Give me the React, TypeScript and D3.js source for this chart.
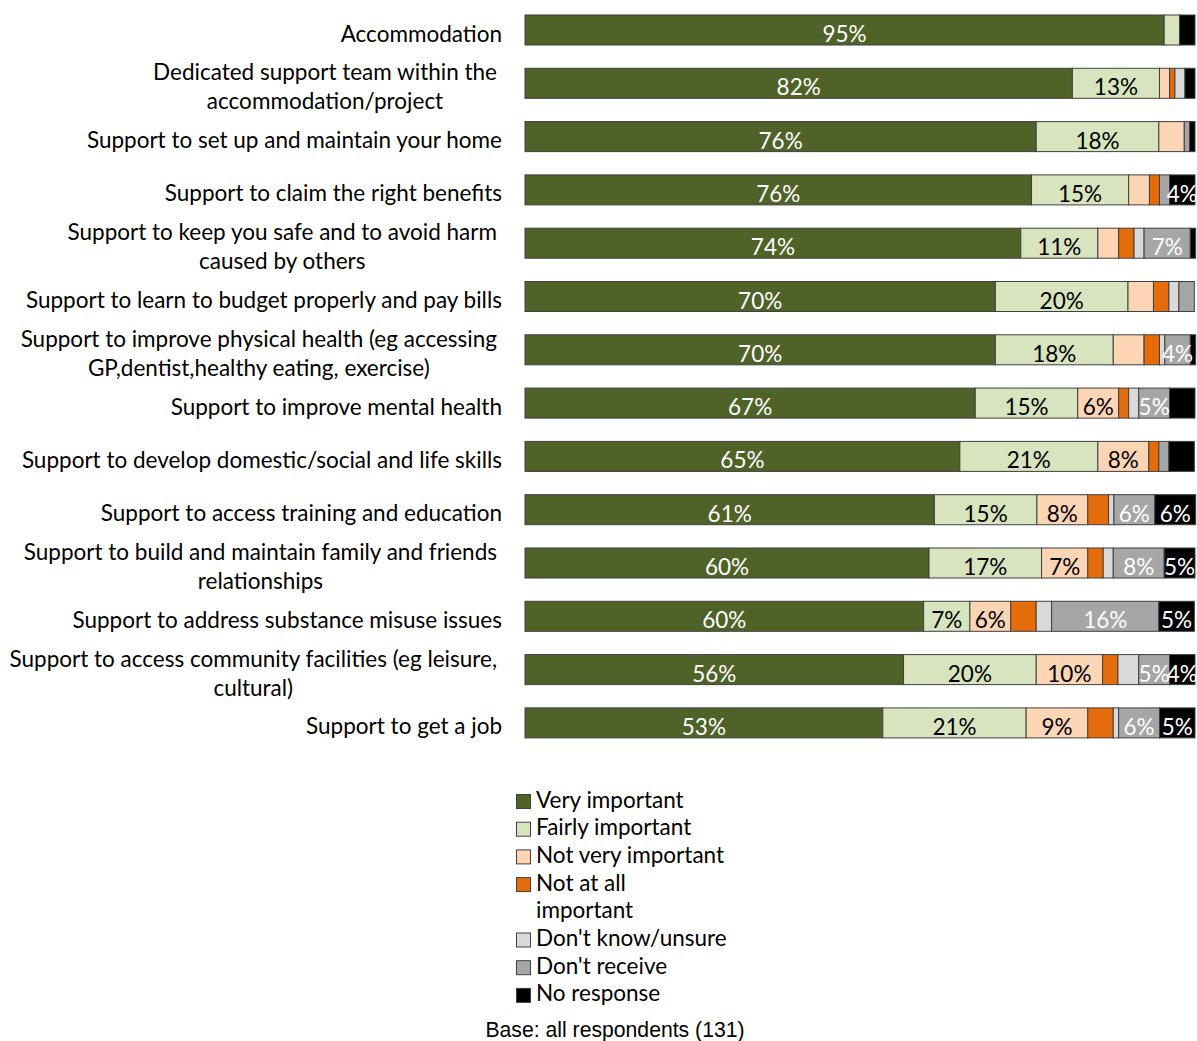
import React, { useEffect, useRef } from "react";
import * as d3 from "d3";

const categories = [
  "Accommodation",
  "Dedicated support team within the accommodation/project",
  "Support to set up and maintain your home",
  "Support to claim the right benefits",
  "Support to keep you safe and to avoid harm caused by others",
  "Support to learn to budget properly and pay bills",
  "Support to improve physical health (eg accessing GP,dentist,healthy eating, exercise)",
  "Support to improve mental health",
  "Support to develop domestic/social and life skills",
  "Support to access training and education",
  "Support to build and maintain family and friends relationships",
  "Support to address substance misuse issues",
  "Support to access community facilities (eg leisure, cultural)",
  "Support to get a job",
];

const categoryLines = [
  ["Accommodation"],
  ["Dedicated support team within the", "accommodation/project"],
  ["Support to set up and maintain your home"],
  ["Support to claim the right benefits"],
  ["Support to keep you safe and to avoid harm", "caused by others"],
  ["Support to learn to budget properly and pay bills"],
  ["Support to improve physical health (eg accessing", "GP,dentist,healthy eating, exercise)"],
  ["Support to improve mental health"],
  ["Support to develop domestic/social and life skills"],
  ["Support to access training and education"],
  ["Support to build and maintain family and friends", "relationships"],
  ["Support to address substance misuse issues"],
  ["Support to access community facilities (eg leisure,", "cultural)"],
  ["Support to get a job"],
];

const seriesNames = [
  "Very important",
  "Fairly important",
  "Not very important",
  "Not at all important",
  "Don't know/unsure",
  "Don't receive",
  "No response",
];

const veryImportant = [95.4, 81.7, 76.3, 75.6, 74.0, 70.2, 70.2, 67.2, 64.9, 61.1, 60.3, 59.5, 56.5, 53.4];
const fairlyImportant = [2.3, 13.0, 18.3, 14.5, 11.5, 19.8, 17.6, 15.3, 20.6, 15.3, 16.8, 6.9, 19.8, 21.4];
const notVeryImportant = [0, 1.5, 3.8, 3.1, 3.1, 3.8, 4.6, 6.1, 7.6, 7.6, 6.9, 6.1, 9.9, 9.2];
const notAtAllImportant = [0, 0.8, 0, 1.5, 2.3, 2.3, 2.3, 1.5, 1.5, 3.1, 2.3, 3.8, 2.3, 3.8];
const dontKnow = [0, 1.5, 0, 0, 1.5, 1.5, 0.8, 1.5, 0, 0.8, 1.5, 2.3, 3.1, 0.8];
const dontReceive = [0, 0, 0.8, 1.5, 6.9, 2.3, 3.8, 4.6, 1.5, 6.1, 7.6, 16.0, 4.6, 6.1];
const noResponse = [2.3, 1.5, 0.8, 3.8, 0.8, 0, 0.8, 3.8, 3.8, 6.1, 4.6, 5.3, 3.8, 5.3];

const veryLabels = ["95%", "82%", "76%", "76%", "74%", "70%", "70%", "67%", "65%", "61%", "60%", "60%", "56%", "53%"];
const fairlyLabels = ["", "13%", "18%", "15%", "11%", "20%", "18%", "15%", "21%", "15%", "17%", "7%", "20%", "21%"];
const notVeryLabels = ["", "", "", "", "", "", "", "6%", "8%", "8%", "7%", "6%", "10%", "9%"];
const notAtAllLabels = ["", "", "", "", "", "", "", "", "", "", "", "", "", ""];
const dontKnowLabels = ["", "", "", "", "", "", "", "", "", "", "", "", "", ""];
const dontReceiveLabels = ["", "", "", "", "7%", "", "4%", "5%", "", "6%", "8%", "16%", "5%", "6%"];
const noResponseLabels = ["", "", "", "4%", "", "", "", "", "", "6%", "5%", "5%", "4%", "5%"];

const legendLines = [
  ["Very important"],
  ["Fairly important"],
  ["Not very important"],
  ["Not at all", "important"],
  ["Don't know/unsure"],
  ["Don't receive"],
  ["No response"],
];

const colors = ["#4F6228", "#D7E4BD", "#FCD5B5", "#E46C0A", "#D9D9D9", "#A6A6A6", "#000000"];
const labelColors = ["#FFFFFF", "#000000", "#000000", "#000000", "#000000", "#FFFFFF", "#FFFFFF"];

const baseNote = "Base: all respondents (131)";

export default function App() {
  const ref = useRef<SVGSVGElement>(null);

  useEffect(() => {
    document.body.style.margin = "0";
    const svg = d3.select(ref.current);
    svg.selectAll("*").remove();

    const font = "Lato, 'Open Sans', sans-serif";
    const fs = 22.5;

    const values = [
      veryImportant,
      fairlyImportant,
      notVeryImportant,
      notAtAllImportant,
      dontKnow,
      dontReceive,
      noResponse,
    ];
    const labels = [
      veryLabels,
      fairlyLabels,
      notVeryLabels,
      notAtAllLabels,
      dontKnowLabels,
      dontReceiveLabels,
      noResponseLabels,
    ];

    const rows = categories.map((c, i) => {
      const o: any = { category: c };
      seriesNames.forEach((s, k) => (o[s] = values[k][i]));
      return o;
    });

    const stacked = d3.stack<any>().keys(seriesNames)(rows);

    const x = d3.scaleLinear().domain([0, 100]).range([525, 1195]);
    const y = d3
      .scaleBand<string>()
      .domain(categories)
      .range([3.35, 3.35 + 14 * 53.3])
      .paddingInner(0.437)
      .paddingOuter(0.2185);
    const bh = y.bandwidth();

    const plot = svg.append("g");

    stacked.forEach((layer, k) => {
      const g = plot.append("g");
      g.selectAll("rect")
        .data(layer.filter((d) => d[1] - d[0] > 0))
        .join("rect")
        .attr("x", (d) => x(d[0]))
        .attr("y", (d) => y(d.data.category)!)
        .attr("width", (d) => x(d[1]) - x(d[0]))
        .attr("height", bh)
        .attr("fill", colors[k])
        .attr("stroke", "#404040")
        .attr("stroke-width", 1);
    });

    stacked.forEach((layer, k) => {
      const g = plot.append("g");
      layer.forEach((d, i) => {
        const t = labels[k][i];
        if (!t) return;
        g.append("text")
          .attr("x", (x(d[0]) + x(d[1])) / 2)
          .attr("y", y(d.data.category)! + bh / 2 + 12)
          .attr("text-anchor", "middle")
          .attr("font-family", font)
          .attr("font-size", fs)
          .attr("fill", labelColors[k])
          .text(t);
      });
    });

    // Category labels
    const catG = svg.append("g");
    categories.forEach((c, i) => {
      const lines = categoryLines[i];
      const cy = y(c)! + bh / 2;
      if (lines.length === 1) {
        catG
          .append("text")
          .attr("x", 502)
          .attr("y", cy + 11.5)
          .attr("text-anchor", "end")
          .attr("font-family", font)
          .attr("font-size", fs)
          .attr("fill", "#000")
          .text(lines[0]);
      } else {
        const texts = lines.map((l, j) =>
          catG
            .append("text")
            .attr("y", cy + 11.5 - 14.5 + j * 29)
            .attr("text-anchor", "middle")
            .attr("font-family", font)
            .attr("font-size", fs)
            .attr("fill", "#000")
            .text(l)
        );
        const maxW = d3.max(texts, (t) => (t.node() as SVGTextElement).getComputedTextLength()) || 0;
        const center = 502 - 5 - maxW / 2;
        texts.forEach((t) => t.attr("x", center));
      }
    });

    // Legend
    const leg = svg.append("g");
    let line = 0;
    const lx = 516;
    const base0 = 807.5;
    const step = 27.7;
    seriesNames.forEach((s, k) => {
      const bl = base0 + line * step;
      leg
        .append("rect")
        .attr("x", lx + 0.5)
        .attr("y", bl - 13)
        .attr("width", 14)
        .attr("height", 14)
        .attr("fill", colors[k])
        .attr("stroke", "#404040")
        .attr("stroke-width", 1);
      legendLines[k].forEach((l, j) => {
        leg
          .append("text")
          .attr("x", 536)
          .attr("y", bl + j * step)
          .attr("font-family", font)
          .attr("font-size", fs)
          .attr("fill", "#000")
          .text(l);
      });
      line += legendLines[k].length;
    });

    svg
      .append("text")
      .attr("x", 615)
      .attr("y", 1036.5)
      .attr("text-anchor", "middle")
      .attr("font-family", "'Liberation Sans', Arial, sans-serif")
      .attr("font-size", 21.2)
      .attr("fill", "#000")
      .text(baseNote);
  }, []);

  return <svg ref={ref} width={1197} height={1041} style={{ display: "block" }} />;
}
